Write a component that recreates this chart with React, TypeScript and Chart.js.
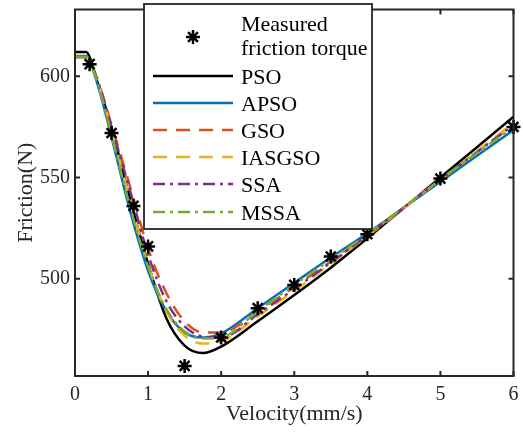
import React, { useEffect, useRef } from "react";
import { Chart, registerables } from "chart.js";

Chart.register(...registerables);

// ---- data ----
const velocity = [0, 0.15, 0.3, 0.5, 0.75, 1.0, 1.25, 1.5, 1.75, 2.0, 2.5, 3, 3.5, 4, 5, 6];
const psoF = [612, 612, 598, 574.5, 540, 507.5, 480.5, 467, 463.3, 466.5, 479, 492, 505.5, 520, 550, 580];
const apsoF = [610, 610, 597, 570, 534, 504, 484, 473.5, 471, 473, 485.5, 498, 510.5, 522.5, 548, 573.5];
const gsoF = [609.5, 609.5, 599, 576, 546, 515, 493, 479, 473.5, 473.5, 484, 496, 508.5, 521.5, 549, 576];
const iasgsoF = [609.5, 609.5, 598, 573, 540, 507, 484, 472, 468, 469, 481.5, 494, 507.5, 521, 549, 577];
const ssaF = [609.5, 609.5, 599, 575, 544, 512, 489, 476.5, 471.5, 471, 482.5, 495, 508, 521.5, 549, 576];
const mssaF = [609.5, 609.5, 598, 571, 536, 506, 485, 474, 470.5, 471, 484, 497, 509.5, 522, 549, 575];

const measuredV = [0.2, 0.5, 0.8, 1.0, 1.5, 2.0, 2.5, 3.0, 3.5, 4.0, 5.0, 6.0];
const measuredF = [606, 572, 536, 516, 457, 471, 485.5, 497, 511, 522, 549.5, 575];

const seriesNames = ["PSO", "APSO", "GSO", "IASGSO", "SSA", "MSSA"];
const measuredName = ["Measured", "friction torque"];
const xTicks = [0, 1, 2, 3, 4, 5, 6];
const yTicks = [500, 550, 600];
const xTitle = "Velocity(mm/s)";
const yTitle = "Friction(N)";

// ---- styles ----
const FONT = "'Liberation Serif', 'Times New Roman', serif";
const AXIS = "#262626";
const seriesStyles = [
  { color: "#000000", dash: [] as number[] },
  { color: "#0072BD", dash: [] as number[] },
  { color: "#D95319", dash: [14, 9] },
  { color: "#EDB120", dash: [14, 9] },
  { color: "#7E2F8E", dash: [12, 5, 3, 5] },
  { color: "#77AC30", dash: [12, 5, 3, 5] },
];

const seriesValues = [psoF, apsoF, gsoF, iasgsoF, ssaF, mssaF];

function drawStar(ctx: CanvasRenderingContext2D, cx: number, cy: number, r: number) {
  ctx.beginPath();
  for (let k = 0; k < 4; k++) {
    const ang = (k * Math.PI) / 4;
    const dx = Math.cos(ang) * r;
    const dy = Math.sin(ang) * r;
    ctx.moveTo(cx - dx, cy - dy);
    ctx.lineTo(cx + dx, cy + dy);
  }
  ctx.stroke();
}

const framePlugin = {
  id: "frame",
  afterDatasetsDraw(chart: any) {
    const { ctx, chartArea: a, scales } = chart;
    const xs = scales.x;
    const ys = scales.y;
    ctx.save();
    ctx.strokeStyle = AXIS;
    ctx.lineWidth = 2;
    ctx.setLineDash([]);
    const tl = 5;
    ctx.beginPath();
    for (const v of xTicks) {
      const px = xs.getPixelForValue(v);
      ctx.moveTo(px, a.bottom);
      ctx.lineTo(px, a.bottom - tl);
      ctx.moveTo(px, a.top);
      ctx.lineTo(px, a.top + tl);
    }
    for (const v of yTicks) {
      const py = ys.getPixelForValue(v);
      ctx.moveTo(a.left, py);
      ctx.lineTo(a.left + tl, py);
      ctx.moveTo(a.right, py);
      ctx.lineTo(a.right - tl, py);
    }
    ctx.stroke();
    ctx.strokeRect(a.left, a.top, a.right - a.left, a.bottom - a.top);

    // legend box
    const L = 144, T = 4, R = 372, B = 229;
    ctx.fillStyle = "#ffffff";
    ctx.fillRect(L, T, R - L, B - T);
    ctx.strokeStyle = AXIS;
    ctx.lineWidth = 1.8;
    ctx.strokeRect(L, T, R - L, B - T);

    ctx.font = `22px ${FONT}`;
    ctx.fillStyle = "#000000";
    ctx.textAlign = "left";
    ctx.textBaseline = "alphabetic";
    const textX = 241;
    ctx.strokeStyle = "#000000";
    ctx.lineWidth = 2.5;
    drawStar(ctx, 193, 37, 7);
    ctx.fillText(measuredName[0], textX, 31);
    ctx.fillText(measuredName[1], textX, 55);
    const rowY = [76, 103, 130, 157, 184, 212];
    seriesNames.forEach((name, i) => {
      const y = rowY[i];
      ctx.strokeStyle = seriesStyles[i].color;
      ctx.lineWidth = 2.5;
      ctx.setLineDash(seriesStyles[i].dash);
      ctx.beginPath();
      ctx.moveTo(153, y);
      ctx.lineTo(233, y);
      ctx.stroke();
      ctx.setLineDash([]);
      ctx.fillText(name, textX, y + 7.5);
    });
    ctx.restore();
  },
};

export default function App() {
  const ref = useRef<HTMLCanvasElement | null>(null);
  useEffect(() => {
    if (!ref.current) return;
    const lineSets = seriesNames.map((name, i) => ({
      type: "line" as const,
      label: name,
      data: velocity.map((v, k) => ({ x: v, y: seriesValues[i][k] })),
      borderColor: seriesStyles[i].color,
      backgroundColor: seriesStyles[i].color,
      borderDash: seriesStyles[i].dash,
      borderWidth: 2.5,
      pointRadius: 0,
      cubicInterpolationMode: "monotone" as const,
      fill: false,
      order: 10 - i,
    }));
    const chart = new Chart(ref.current, {
      type: "line",
      data: {
        datasets: [
          {
            type: "scatter" as any,
            label: "Measured friction torque",
            data: measuredV.map((v, k) => ({ x: v, y: measuredF[k] })),
            pointStyle: "star",
            pointRadius: 7,
            pointBorderWidth: 2.5,
            borderColor: "#000000",
            backgroundColor: "#000000",
            showLine: false,
            clip: false as any,
            order: 0,
          } as any,
          ...lineSets,
        ],
      },
      options: {
        animation: false,
        responsive: false,
        devicePixelRatio: 1,
        layout: { padding: { left: 0, right: 7.5, top: 8, bottom: 0 } },
        plugins: { legend: { display: false }, tooltip: { enabled: false } },
        scales: {
          x: {
            type: "linear",
            min: 0,
            max: 6,
            grid: { display: false, drawTicks: false },
            border: { display: false },
            afterBuildTicks: (s: any) => {
              s.ticks = xTicks.map((v) => ({ value: v }));
            },
            afterFit: (s: any) => {
              s.height = 59;
              s.paddingLeft = 0;
              s.paddingRight = 0;
              s.paddingTop = 0;
              s.paddingBottom = 0;
            },
            ticks: {
              color: AXIS,
              padding: 7,
              font: { family: FONT, size: 20 },
              maxRotation: 0,
              callback: (v: any) => String(v),
            },
            title: {
              display: true,
              text: xTitle,
              color: AXIS,
              font: { family: FONT, size: 22 },
              padding: { top: 0, bottom: 7.3 },
            },
          },
          y: {
            type: "linear",
            min: 452,
            max: 633,
            grid: { display: false, drawTicks: false },
            border: { display: false },
            afterBuildTicks: (s: any) => {
              s.ticks = yTicks.map((v) => ({ value: v }));
            },
            afterFit: (s: any) => {
              s.width = 75;
              s.paddingLeft = 0;
              s.paddingRight = 0;
              s.paddingTop = 0;
              s.paddingBottom = 0;
            },
            ticks: {
              color: AXIS,
              padding: 5,
              font: { family: FONT, size: 20 },
              callback: (v: any) => String(v),
            },
            title: {
              display: true,
              text: yTitle,
              color: AXIS,
              font: { family: FONT, size: 22 },
              padding: { top: 12.6, bottom: 0 },
            },
          },
        },
      },
      plugins: [framePlugin],
    });
    return () => chart.destroy();
  }, []);
  return (
    <div style={{ position: "absolute", left: 0, top: 0, width: 523, height: 435, background: "#fff" }}>
      <canvas ref={ref} width={523} height={435} style={{ display: "block" }} />
    </div>
  );
}
